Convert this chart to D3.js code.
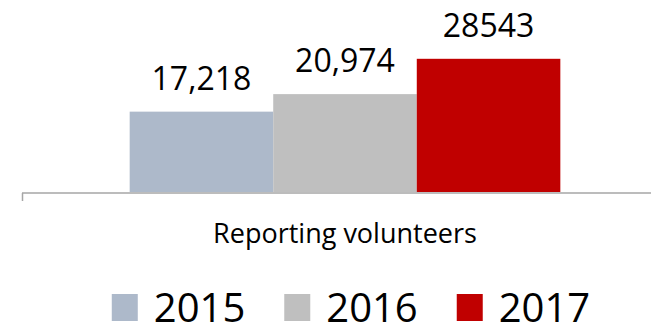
<!DOCTYPE html>
<html>
<head>
<meta charset="utf-8">
<script src="https://cdn.jsdelivr.net/npm/d3@7"></script>
<style>
  body { margin: 0; background: #fff; }
  svg text { font-family: "Open Sans", sans-serif; fill: #000; }
</style>
</head>
<body>
<div id="chart"></div>
<script>
// chart data
var categories = ["Reporting volunteers"];
var years = ["2015", "2016", "2017"];
var values = [17218, 20974, 28543];
var value_labels = ["17,218", "20,974", "28543"];
var colors = ["#adb9ca", "#bfbfbf", "#c00000"];

var width = 651;
var height = 323;

var svg = d3.select('#chart')
  .append('svg')
  .attr('width', width)
  .attr('height', height);

// outer band for the single category, inner band for the years
var x0 = d3.scaleBand()
  .domain(categories)
  .range([22, 668])
  .padding(0.2);

var x1 = d3.scaleBand()
  .domain(years)
  .range([0, x0.bandwidth()])
  .padding(0);

var y = d3.scaleLinear()
  .domain([0, 30000])
  .range([192, 52]);

var rows = years.map(function(yr, i) {
  return { year: yr, value: values[i], label: value_labels[i], color: colors[i] };
});

var g = svg.append('g')
  .attr('transform', 'translate(' + x0(categories[0]) + ',0)');

g.selectAll('rect')
  .data(rows)
  .enter().append('rect')
    .attr('x', d => x1(d.year))
    .attr('y', d => y(d.value))
    .attr('width', x1.bandwidth())
    .attr('height', d => y(0) - y(d.value))
    .attr('fill', d => d.color);

g.selectAll('text.val')
  .data(rows)
  .enter().append('text')
    .attr('class', 'val')
    .attr('x', d => x1(d.year) + x1.bandwidth() / 2)
    .attr('y', d => y(d.value) - 22)
    .attr('text-anchor', 'middle')
    .style('font-size', '32px')
    .text(d => d.label);

// category axis: line plus one tick at the left end
svg.append('line')
  .attr('x1', 22).attr('x2', width)
  .attr('y1', y(0) + 1).attr('y2', y(0) + 1)
  .attr('stroke', '#a6a6a6')
  .attr('stroke-width', 1.5);
svg.append('line')
  .attr('x1', 22.5).attr('x2', 22.5)
  .attr('y1', y(0) + 1).attr('y2', y(0) + 9)
  .attr('stroke', '#a6a6a6')
  .attr('stroke-width', 1.5);

svg.selectAll('text.cat')
  .data(categories)
  .enter().append('text')
    .attr('class', 'cat')
    .attr('x', d => x0(d) + x0.bandwidth() / 2)
    .attr('y', 243)
    .attr('text-anchor', 'middle')
    .style('font-size', '27px')
    .text(d => d);

// legend, laid out from measured text widths and centred
var legend = svg.append('g');
var items = legend.selectAll('g')
  .data(rows)
  .enter().append('g');
items.append('rect')
  .attr('width', 26).attr('height', 27)
  .attr('y', 294)
  .attr('fill', d => d.color);
items.append('text')
  .attr('x', 42)
  .attr('y', 322)
  .style('font-size', '40px')
  .text(d => d.year);

var xpos = 0;
items.each(function() {
  var w = 42 + this.querySelector('text').getComputedTextLength();
  d3.select(this).attr('transform', 'translate(' + xpos + ',0)');
  xpos += w + 39;
});
var total = xpos - 39;
legend.attr('transform', 'translate(' + (351 - total / 2) + ',0)');
</script>
</body>
</html>
